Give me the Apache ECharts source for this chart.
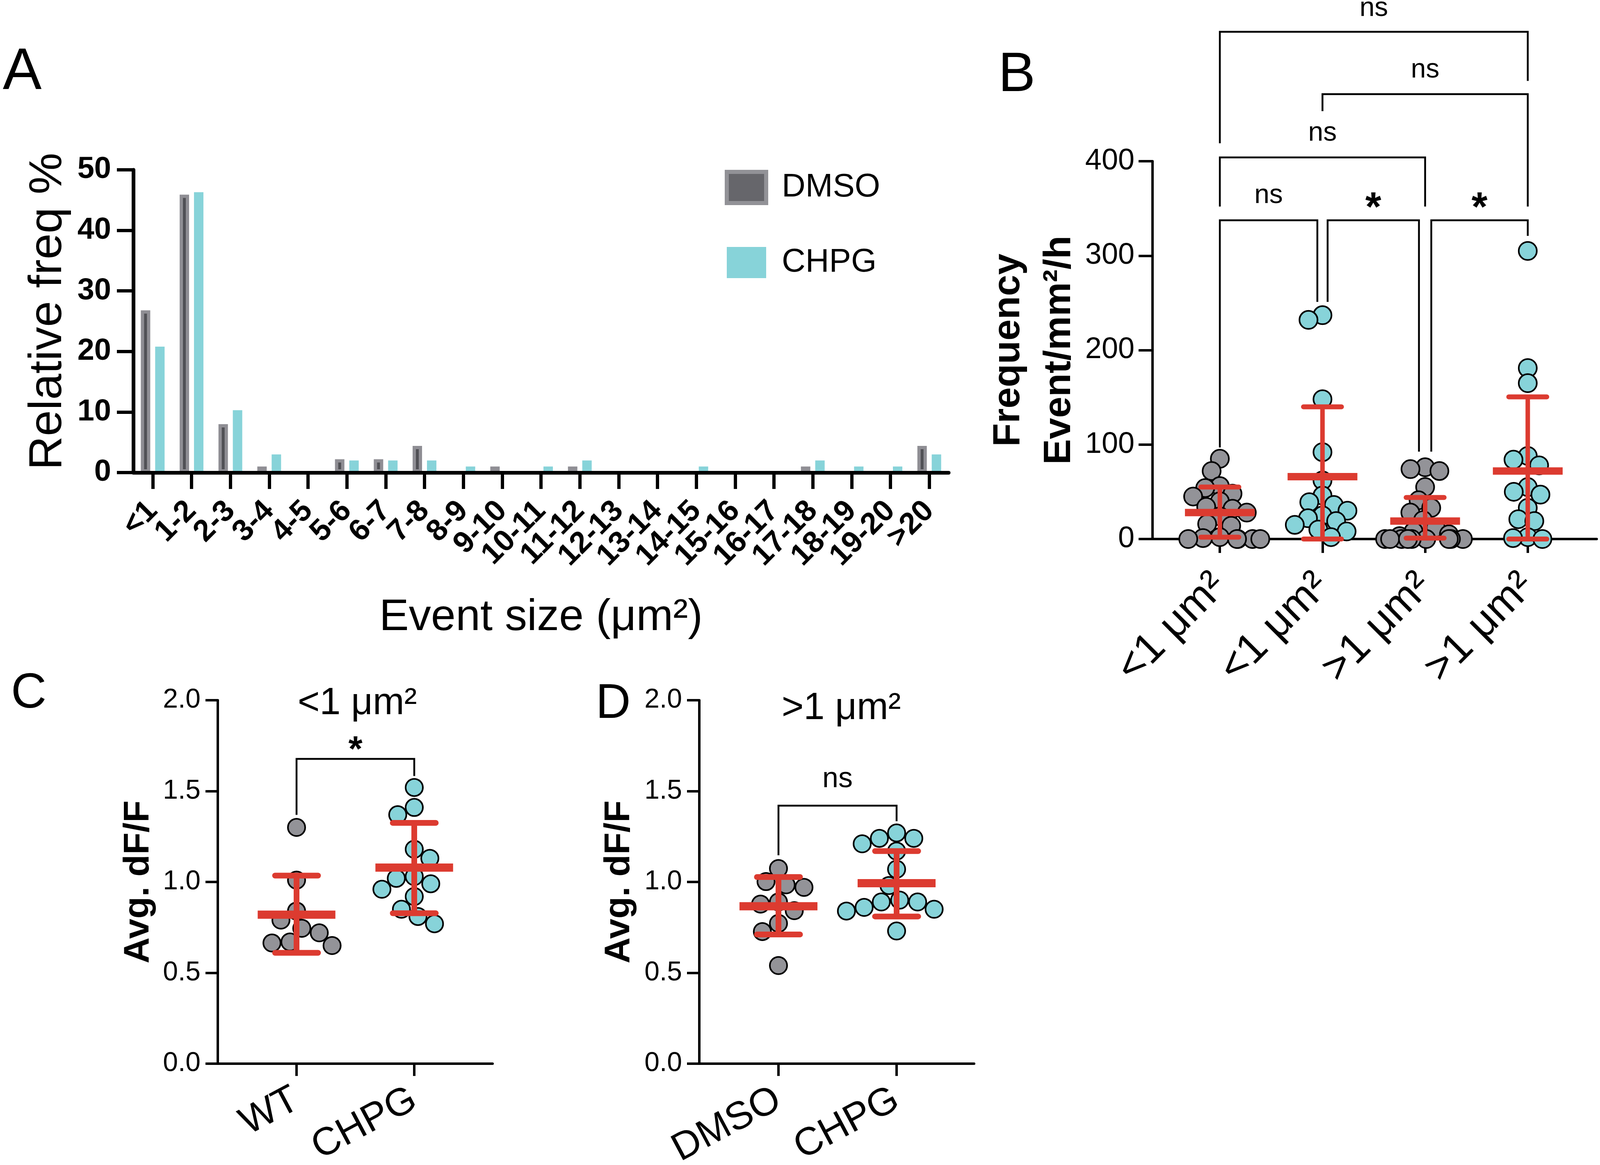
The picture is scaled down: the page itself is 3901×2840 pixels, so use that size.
<!DOCTYPE html>
<html>
<head>
<meta charset="utf-8">
<script src="https://cdn.jsdelivr.net/npm/echarts@6/dist/echarts.min.js"></script>
<style>html,body{margin:0;padding:0;background:#fff}#c{width:3901px;height:2840px}</style>
</head>
<body>
<div id="c"></div>
<script>
// ---------- Panel A data ----------
const sizeCats = ['<1','1-2','2-3','3-4','4-5','5-6','6-7','7-8','8-9','9-10','10-11','11-12','12-13','13-14','14-15','15-16','16-17','17-18','18-19','19-20','>20'];
const dmsoFreq = [26.8, 45.9, 8, 1, 0, 2.2, 2.2, 4.4, 0, 1, 0, 1, 0, 0, 0, 0, 0, 1, 0, 0, 4.4];
const chpgFreq = [20.8, 46.3, 10.3, 3, 0, 2, 2, 2, 1, 0, 1, 2, 0, 0, 1, 0, 0, 2, 1, 1, 3];

// ---------- Panel B data ----------
const bCats = ['<1 μm²', '<1 μm²', '>1 μm²', '>1 μm²'];
const bDmsoSmall = [85, 72, 56, 54, 48, 45, 40, 34, 32, 28, 24, 16, 14, 2, 1, 0, 0, 0, 0, 0];
const bChpgSmall = [237, 232, 148, 92, 62, 46, 39, 36, 30, 25, 22, 19, 15, 10, 8, 2];
const bDmsoLarge = [76, 74, 72, 55, 41, 33, 28, 20, 12, 8, 5, 3, 0, 0, 0, 0, 0, 0, 0, 0, 0];
const bChpgLarge = [305, 181, 165, 88, 84, 78, 55, 50, 47, 33, 21, 19, 2, 1, 0];
const bMean = [28, 66, 19, 72];
const bSdLow = [2, 0, 1, 0];
const bSdHigh = [55, 140, 44, 150.5];
// [from, to, bar level, left leg end, right leg end, label, label level]
const bBrackets = [
  [0, 3, 537, 419, 485, 'ns', 559],
  [1, 3, 471, 453, 352, 'ns', 494],
  [0, 2, 404, 352, 352, 'ns', 427],
  [0, 0.95, 337.5, 97, 251, 'ns', 361],
  [1.05, 1.94, 337.5, 251, 92.5, '*', 359],
  [2.06, 3, 337.5, 92.5, 321, '*', 359]
];

// ---------- Panel C data ----------
const cCats = ['WT', 'CHPG'];
const cWT = [1.30, 1.01, 0.84, 0.79, 0.745, 0.72, 0.67, 0.664, 0.65];
const cCHPG = [1.52, 1.41, 1.37, 1.18, 1.13, 1.03, 1.02, 0.99, 0.96, 0.92, 0.85, 0.81, 0.77];
const cMean = [0.82, 1.079];
const cSdLow = [0.61, 0.828];
const cSdHigh = [1.035, 1.325];
const cBrackets = [[0, 1, 1.677, 1.369, 1.583, '*', 1.767]];

// ---------- Panel D data ----------
const dCats = ['DMSO', 'CHPG'];
const dDMSO = [1.074, 1.002, 0.984, 0.97, 0.89, 0.878, 0.842, 0.772, 0.727, 0.54];
const dCHPG = [1.27, 1.24, 1.24, 1.21, 1.17, 1.07, 0.98, 0.9, 0.89, 0.89, 0.86, 0.85, 0.84, 0.73];
const dMean = [0.866, 0.993];
const dSdLow = [0.711, 0.81];
const dSdHigh = [1.027, 1.17];
const dBrackets = [[0, 1, 1.42, 1.147, 1.334, 'ns', 1.55]];

// ---------- styles ----------
const FONT = 'Liberation Sans, Arial, Helvetica, sans-serif';
const GRAY = '#939398', CYAN = '#87d3d9', RED = '#dc3b30';

function makeErr(mw, cw, lwMean, lwCap, lwV) {
  return function (params, api) {
    const c = api.value(0);
    const band = api.size([1, 0])[0];
    const pm = api.coord([c, api.value(1)]);
    const pl = api.coord([c, api.value(2)]);
    const ph = api.coord([c, api.value(3)]);
    const x = pm[0];
    const M = band * mw / 2, C = band * cw / 2;
    const st = (w, cap) => ({ stroke: RED, lineWidth: w, lineCap: cap, fill: 'none' });
    return { type: 'group', children: [
      { type: 'line', shape: { x1: x, y1: pl[1], x2: x, y2: ph[1] }, style: st(lwV, 'butt') },
      { type: 'line', shape: { x1: x - C, y1: pl[1], x2: x + C, y2: pl[1] }, style: st(lwCap, 'round') },
      { type: 'line', shape: { x1: x - C, y1: ph[1], x2: x + C, y2: ph[1] }, style: st(lwCap, 'round') },
      { type: 'line', shape: { x1: x - M, y1: pm[1], x2: x + M, y2: pm[1] }, style: st(lwMean, 'butt') }
    ] };
  };
}

function makeBracket(specs, lw, fsNs, fsStar) {
  return function (params, api) {
    const s = specs[params.dataIndex];
    const band = api.size([1, 0])[0];
    const x0 = api.coord([0, 0])[0];
    const X = p => x0 + p * band;
    const Y = v => api.coord([0, v])[1];
    const xl = X(s[0]), xr = X(s[1]), yt = Y(s[2]);
    const isStar = s[5] === '*';
    const fs = isStar ? fsStar : fsNs;
    const ty = Y(s[6]) + (isStar ? 0.23 : -0.09) * fs;
    return { type: 'group', children: [
      { type: 'polyline', shape: { points: [[xl, Y(s[3])], [xl, yt], [xr, yt], [xr, Y(s[4])]] },
        style: { stroke: '#000', lineWidth: lw, fill: 'none' } },
      { type: 'text', style: { text: s[5], x: (xl + xr) / 2, y: ty, fill: '#000', fontSize: fs,
        fontWeight: isStar ? 'bold' : 'normal', fontFamily: FONT,
        align: 'center', verticalAlign: 'middle', textAlign: 'center', textVerticalAlign: 'middle' } }
    ] };
  };
}

function dots(axisIdx, vals, catIdx, color, size) {
  return { type: 'scatter', xAxisIndex: axisIdx, yAxisIndex: axisIdx, z: 2,
    data: vals.map(v => [catIdx, v]), symbol: 'circle', symbolSize: size,
    itemStyle: { color: color, borderColor: '#000', borderWidth: 4, opacity: 1 },
    silent: true };
}

const axisLineBlack = w => ({ show: true, onZero: false, lineStyle: { color: '#000', width: w } });

function frameX(grid, w) {
  return { type: 'value', gridIndex: grid, min: 0, max: 1, axisLine: axisLineBlack(w),
    axisTick: { show: false }, axisLabel: { show: false }, splitLine: { show: false } };
}
function catX(grid, cats, tickLen, w, fs, rot, margin) {
  return { type: 'category', gridIndex: grid, data: cats, boundaryGap: true,
    jitter: 280, jitterOverlap: false, jitterMargin: grid === 2 ? -8 : 2,
    axisLine: { show: false },
    axisTick: { show: true, alignWithLabel: true, length: tickLen, lineStyle: { color: '#000', width: w } },
    axisLabel: { show: true, interval: 0, rotate: rot, margin: margin, fontSize: fs, color: '#000', fontFamily: FONT },
    splitLine: { show: false } };
}
function hiddenY(grid, max) {
  return { type: 'value', gridIndex: grid, min: 0, max: max, show: false, splitLine: { show: false } };
}
function frameY(grid, max, interval, name, nameFs, nameGap, tickLen, w, fs, margin, fmt, lh) {
  return { type: 'value', gridIndex: grid, min: 0, max: max, interval: interval,
    name: name, nameLocation: 'middle', nameGap: nameGap, nameMoveOverlap: false,
    nameTextStyle: { fontSize: nameFs, fontWeight: 'bold', color: '#000', fontFamily: FONT, lineHeight: lh },
    axisLine: axisLineBlack(w),
    axisTick: { show: true, length: tickLen, lineStyle: { color: '#000', width: w } },
    axisLabel: { show: true, margin: margin, fontSize: fs, color: '#000', fontFamily: FONT, formatter: fmt },
    splitLine: { show: false } };
}

const txt = (text, x, y, fs) => ({ type: 'text', x: x, y: y, style: { text: text, fontSize: fs, fontFamily: FONT,
  fill: '#000', align: 'center', verticalAlign: 'middle', textAlign: 'center', textVerticalAlign: 'middle' } });

const fmt1 = v => v.toFixed(1);

const option = {
  animation: false,
  backgroundColor: '#fff',
  textStyle: { fontFamily: FONT },
  grid: [
    { left: 325, top: 414, width: 1988, height: 738, outerBoundsMode: 'none' },      // 0 A
    { left: 2810, top: 393, width: 1083, height: 921, outerBoundsMode: 'none' },     // 1 B frame
    { left: 2849, top: 393, width: 1001, height: 921, outerBoundsMode: 'none' },     // 2 B data
    { left: 531, top: 1707, width: 670, height: 886, outerBoundsMode: 'none' },      // 3 C frame
    { left: 579.5, top: 1707, width: 574, height: 886, outerBoundsMode: 'none' },    // 4 C data
    { left: 1705, top: 1707, width: 670, height: 886, outerBoundsMode: 'none' },     // 5 D frame
    { left: 1754, top: 1707, width: 576, height: 886, outerBoundsMode: 'none' }      // 6 D data
  ],
  legend: {
    orient: 'vertical', left: 1762, top: 409, itemWidth: 96, itemHeight: 76, itemGap: 100,
    icon: 'rect', selectedMode: false,
    textStyle: { fontSize: 80, fontFamily: FONT, color: '#000', padding: [0, 0, 0, 33] },
    data: [
      { name: 'DMSO', itemStyle: { color: '#66666b', borderColor: '#929297', borderWidth: 10 } },
      { name: 'CHPG', itemStyle: { color: CYAN, borderWidth: 0 } }
    ]
  },
  xAxis: [
    { type: 'category', gridIndex: 0, data: sizeCats, boundaryGap: true, z: 5,
      name: 'Event size (μm²)', nameLocation: 'middle', nameGap: 300, nameMoveOverlap: false,
      nameTextStyle: { fontSize: 108, color: '#000', fontFamily: FONT },
      axisLine: axisLineBlack(9),
      axisTick: { show: true, alignWithLabel: true, length: 40, lineStyle: { color: '#000', width: 8 } },
      axisLabel: { interval: 0, rotate: 45, margin: 82, fontSize: 74, fontWeight: 'bold', color: '#000', fontFamily: FONT },
      splitLine: { show: false } },
    frameX(1, 6),
    catX(2, bCats, 34, 6, 104, 45, 100),
    frameX(3, 6),
    catX(4, cCats, 30, 6, 95, 28, 82),
    frameX(5, 6),
    catX(6, dCats, 30, 6, 95, 28, 82)
  ],
  yAxis: [
    { type: 'value', gridIndex: 0, min: 0, max: 50, interval: 10, z: 5,
      name: 'Relative freq %', nameLocation: 'middle', nameGap: 150, nameMoveOverlap: false,
      nameTextStyle: { fontSize: 114, color: '#000', fontFamily: FONT, padding: [0, 0, 0, 48] },
      axisLine: axisLineBlack(9),
      axisTick: { show: true, length: 40, lineStyle: { color: '#000', width: 8 } },
      axisLabel: { margin: 54, fontSize: 74, fontWeight: 'bold', color: '#000', fontFamily: FONT },
      splitLine: { show: false } },
    frameY(1, 400, 100, 'Frequency\nEvent/mm²/h', 93, 165, 34, 6, 72, 44, null, 124),
    hiddenY(2, 400),
    frameY(3, 2, 0.5, 'Avg. dF/F', 88, 143, 30, 6, 66, 42, fmt1, 100),
    hiddenY(4, 2),
    frameY(5, 2, 0.5, 'Avg. dF/F', 88, 145, 30, 6, 66, 42, fmt1, 100),
    hiddenY(6, 2)
  ],
  series: [
    { name: 'DMSO', type: 'bar', xAxisIndex: 0, yAxisIndex: 0, barWidth: 23, barGap: '52%',
      data: dmsoFreq.map(v => v === 0 ? '-' : v),
      itemStyle: { color: '#505055', borderColor: '#8f8e94', borderWidth: 8 }, silent: true },
    { name: 'CHPG', type: 'bar', xAxisIndex: 0, yAxisIndex: 0, barWidth: 23, barGap: '52%',
      data: chpgFreq.map(v => v === 0 ? '-' : v),
      itemStyle: { color: CYAN }, silent: true },

    dots(2, bDmsoSmall, 0, GRAY, 44),
    dots(2, bChpgSmall, 1, CYAN, 44),
    dots(2, bDmsoLarge, 2, GRAY, 44),
    dots(2, bChpgLarge, 3, CYAN, 44),
    { type: 'custom', xAxisIndex: 2, yAxisIndex: 2, z: 4, silent: true, clip: false,
      renderItem: makeErr(0.68, 0.37, 18, 12, 11),
      data: bMean.map((m, i) => [i, m, bSdLow[i], bSdHigh[i]]) },
    { type: 'custom', xAxisIndex: 2, yAxisIndex: 2, z: 3, silent: true, clip: false,
      renderItem: makeBracket(bBrackets, 4.5, 66, 100),
      data: bBrackets.map(b => [0, b[2]]) },

    dots(4, cWT, 0, GRAY, 42),
    dots(4, cCHPG, 1, CYAN, 42),
    { type: 'custom', xAxisIndex: 4, yAxisIndex: 4, z: 4, silent: true, clip: false,
      renderItem: makeErr(0.66, 0.365, 20, 14, 14),
      data: cMean.map((m, i) => [i, m, cSdLow[i], cSdHigh[i]]) },
    { type: 'custom', xAxisIndex: 4, yAxisIndex: 4, z: 3, silent: true, clip: false,
      renderItem: makeBracket(cBrackets, 4.5, 68, 88),
      data: cBrackets.map(b => [0, b[2]]) },

    dots(6, dDMSO, 0, GRAY, 42),
    dots(6, dCHPG, 1, CYAN, 42),
    { type: 'custom', xAxisIndex: 6, yAxisIndex: 6, z: 4, silent: true, clip: false,
      renderItem: makeErr(0.66, 0.365, 20, 14, 14),
      data: dMean.map((m, i) => [i, m, dSdLow[i], dSdHigh[i]]) },
    { type: 'custom', xAxisIndex: 6, yAxisIndex: 6, z: 3, silent: true, clip: false,
      renderItem: makeBracket(dBrackets, 4.5, 70, 88),
      data: dBrackets.map(b => [0, b[2]]) }
  ],
  graphic: [
    txt('A', 54, 178, 142),
    txt('B', 2479, 184, 136),
    txt('C', 70, 1692, 120),
    txt('D', 1495, 1717, 118),
    txt('<1 μm²', 871, 1716, 92),
    txt('>1 μm²', 2051, 1728, 92)
  ]
};

const chart = echarts.init(document.getElementById('c'), null, { renderer: 'canvas' });
chart.setOption(option);
</script>
</body>
</html>
